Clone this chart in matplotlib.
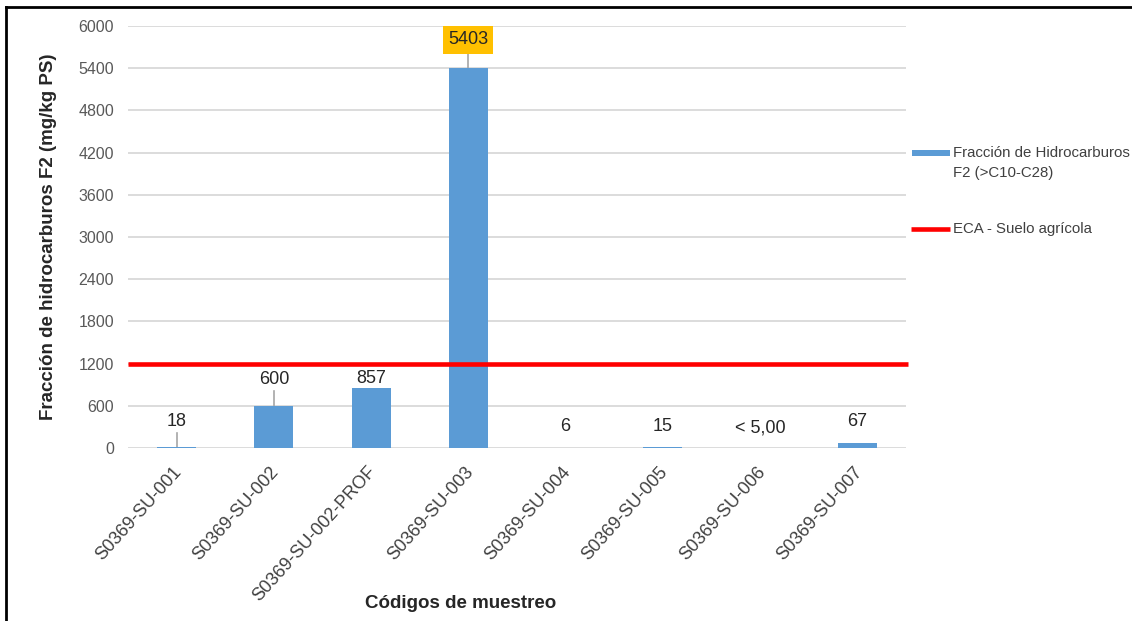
import matplotlib
matplotlib.use("Agg")
import matplotlib.pyplot as plt
import matplotlib.transforms as mtransforms
from matplotlib.lines import Line2D
from matplotlib.patches import Rectangle

plt.rcParams['font.family'] = ['Liberation Sans', 'DejaVu Sans']

# Sample codes and F2 hydrocarbon fraction (mg/kg PS)
samples = ["S0369-SU-001", "S0369-SU-002", "S0369-SU-002-PROF", "S0369-SU-003",
           "S0369-SU-004", "S0369-SU-005", "S0369-SU-006", "S0369-SU-007"]
f2_values = [18, 600, 857, 5403, 6, 15, 5.0, 67]
value_labels = ["18", "600", "857", "5403", "6", "15", "< 5,00", "67"]
eca_limit = 1200
y_ticks = [0, 600, 1200, 1800, 2400, 3000, 3600, 4200, 4800, 5400, 6000]

# Label centre offsets above each bar (data units) and leader-line flags
label_offsets = [352, 367, 130, 398, 293, 284, 279, 303]
leader = [True, True, False, True, False, False, False, False]

bar_color = "#5B9BD5"
grid_color = "#D9D9D9"
tick_color = "#595959"
text_color = "#262626"

W, H = 1132, 621
fig = plt.figure(figsize=(W / 100, H / 100), dpi=100)
ax = fig.add_axes([128 / W, 1 - 448 / H, (906 - 128) / W, (448 - 26) / H])

x = list(range(len(samples)))
ax.bar(x, f2_values, width=0.40, color=bar_color, zorder=2)
ax.axhline(eca_limit, color="#FF0000", lw=3.3, zorder=3, xmin=0, xmax=1.003,
           clip_on=False, solid_capstyle="butt")

ax.set_xlim(-0.5, len(samples) - 0.5)
ax.set_ylim(0, 6000)
ax.set_yticks(y_ticks)
ax.yaxis.grid(True, color=grid_color, lw=1.3, zorder=0)
ax.set_axisbelow(True)
for s in ax.spines.values():
    s.set_visible(False)
ax.tick_params(axis="both", length=0, colors=tick_color, labelsize=11.5)
ax.tick_params(axis="y", pad=10)
ax.set_xticks(x)
ax.set_xticklabels(samples, rotation=48, ha="right", va="top",
                   rotation_mode="anchor", fontsize=13)
ax.tick_params(axis="x", pad=11)
shift = mtransforms.ScaledTranslation(-4 / 100, 0, fig.dpi_scale_trans)
for lbl in ax.get_xticklabels():
    lbl.set_color("#404040")
    lbl.set_transform(lbl.get_transform() + shift)

# Value labels
for i, (v, txt) in enumerate(zip(f2_values, value_labels)):
    ty = v + label_offsets[i]
    if i == 3:
        ax.plot([i, i], [v, ty - 200], color="#A6A6A6", lw=1.2, zorder=1)
        ax.text(i, ty, txt, ha="center", va="center", fontsize=13,
                color=text_color,
                bbox=dict(boxstyle="square,pad=0.28", fc="#FFC000", ec="none"))
    else:
        if leader[i]:
            ax.plot([i, i], [v, ty - 160], color="#A6A6A6", lw=1.2, zorder=1)
        ax.text(i, ty, txt, ha="center", va="center", fontsize=13,
                color=text_color)

ax.set_ylabel("Fracción de hidrocarburos F2 (mg/kg PS)", fontsize=13.5,
              fontweight="bold", color=text_color)
ax.yaxis.set_label_coords(-71 / (906 - 128), 0.5)
fig.text(461 / W, 1 - 603 / H, "Códigos de muestreo", ha="center", va="center",
         fontsize=13.5, fontweight="bold", color=text_color)

# Legend entries on the right
fig.add_artist(Rectangle((912 / W, 1 - 156 / H), 38 / W, 6 / H,
                         facecolor=bar_color, edgecolor="none",
                         transform=fig.transFigure))
fig.text(953 / W, 1 - 153 / H, "Fracción de Hidrocarburos", ha="left",
         va="center", fontsize=10.8, color="#404040")
fig.text(953 / W, 1 - 173 / H, "F2 (>C10-C28)", ha="left",
         va="center", fontsize=10.8, color="#404040")
fig.add_artist(Line2D([911 / W, 950 / W], [1 - 229 / H, 1 - 229 / H],
                      color="#FF0000", lw=3.3, solid_capstyle="butt",
                      transform=fig.transFigure))
fig.text(953 / W, 1 - 229 / H, "ECA - Suelo agrícola", ha="left",
         va="center", fontsize=10.8, color="#404040")

# Frame lines on the top and left edges
fig.add_artist(Line2D([6 / W, 6 / W], [0, 1 - 7 / H], color="black", lw=2,
                      transform=fig.transFigure))
fig.add_artist(Line2D([6 / W, 1], [1 - 7 / H, 1 - 7 / H], color="black", lw=2,
                      transform=fig.transFigure))

fig.savefig("out.png", dpi=100)
